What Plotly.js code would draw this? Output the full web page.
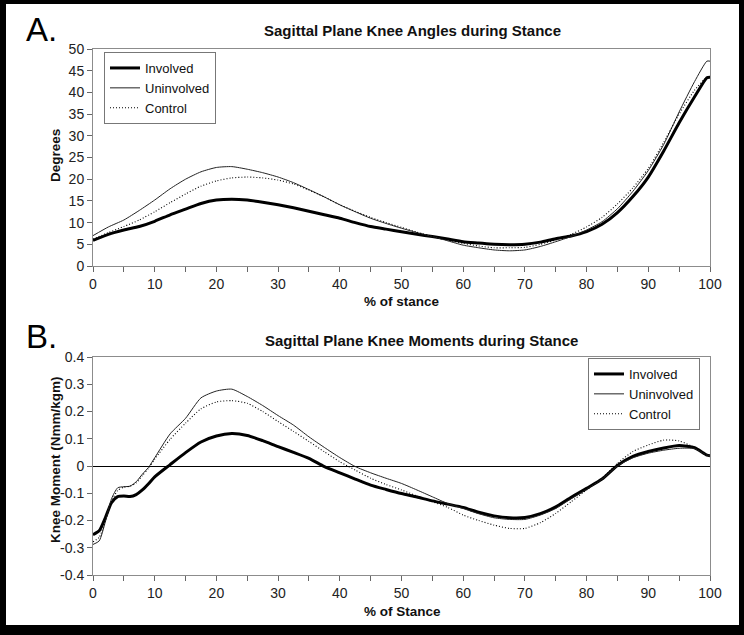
<!DOCTYPE html>
<html>
<head>
<meta charset="utf-8">
<script src="https://cdn.plot.ly/plotly-3.0.1.min.js"></script>
<style>
  html, body { margin: 0; padding: 0; background: #fff; }
  #chart { width: 744px; height: 635px; }
</style>
</head>
<body>
<div id="chart"></div>
<script>
// top panel: knee angles (degrees) vs % of stance
var angleX = [0, 2.5, 5, 7.5, 10, 12.5, 15, 17.5, 20, 22.5, 25, 27.5, 30, 32.5, 35, 37.5, 40, 42.5, 45, 47.5,
              50, 52.5, 55, 57.5, 60, 62.5, 65, 67.5, 70, 72.5, 75, 77.5, 80, 82.5, 85, 87.5, 90, 92.5, 95, 97.5, 99.5, 100];
var angleInvolved = [5.9, 7.3, 8.3, 9.1, 10.3, 11.8, 13.1, 14.4, 15.2, 15.4, 15.2, 14.7, 14.1, 13.4, 12.6, 11.8, 11.0, 10.0, 9.1, 8.5,
                     7.9, 7.3, 6.8, 6.2, 5.6, 5.3, 5.0, 4.9, 5.0, 5.5, 6.3, 6.9, 7.9, 9.6, 12.3, 16.0, 20.5, 26.5, 33.0, 39.0, 43.4, 43.5];
var angleUninvolved = [7.0, 9.0, 10.6, 12.8, 15.2, 17.8, 20.0, 21.7, 22.7, 22.9, 22.3, 21.5, 20.5, 19.2, 17.6, 15.9, 14.1, 12.5, 11.0, 9.8,
                       8.7, 7.7, 6.8, 5.8, 4.8, 4.2, 3.7, 3.5, 3.7, 4.5, 5.6, 6.8, 8.3, 10.2, 13.2, 17.2, 22.0, 28.0, 35.5, 42.5, 47.2, 47.2];
var angleControl = [6.2, 7.7, 9.1, 10.6, 12.5, 14.6, 16.6, 18.4, 19.6, 20.3, 20.5, 20.3, 19.8, 18.9, 17.5, 15.9, 14.1, 12.6, 11.2, 10.0,
                    8.9, 7.8, 6.8, 6.0, 5.2, 4.6, 4.2, 4.2, 4.3, 5.0, 6.0, 7.3, 9.0, 11.2, 14.3, 18.0, 22.5, 28.5, 35.0, 40.5, 43.5, 43.5];

// bottom panel: knee moments (Nmm/kgm) vs % of stance
var momentX = [0, 1, 2, 3, 4, 5, 6, 7, 8, 9, 10, 12.5, 15, 17.5, 20, 22.5, 25, 27.5, 30, 32.5, 35, 37.5, 40, 42.5, 45, 47.5,
               50, 52.5, 55, 57.5, 60, 62.5, 65, 67.5, 70, 72.5, 75, 77.5, 80, 82.5, 85, 87.5, 90, 92.5, 95, 97.5, 99.5, 100];
var momentInvolved = [-0.252, -0.238, -0.190, -0.135, -0.112, -0.110, -0.112, -0.105, -0.088, -0.065, -0.040, 0.005, 0.049, 0.088,
                      0.110, 0.119, 0.112, 0.093, 0.071, 0.050, 0.028, -0.002, -0.025, -0.048, -0.070, -0.086, -0.101, -0.114,
                      -0.128, -0.140, -0.152, -0.170, -0.183, -0.190, -0.189, -0.175, -0.150, -0.115, -0.082, -0.048, 0.002,
                      0.035, 0.053, 0.066, 0.075, 0.067, 0.040, 0.038];
var momentUninvolved = [-0.288, -0.275, -0.205, -0.120, -0.080, -0.076, -0.074, -0.058, -0.030, -0.005, 0.030, 0.118, 0.175, 0.250,
                        0.275, 0.282, 0.255, 0.222, 0.185, 0.150, 0.107, 0.068, 0.031, -0.002, -0.025, -0.045, -0.064, -0.088,
                        -0.113, -0.138, -0.156, -0.175, -0.190, -0.196, -0.196, -0.180, -0.156, -0.120, -0.086, -0.048, 0.0,
                        0.030, 0.047, 0.058, 0.065, 0.064, 0.040, 0.039];
var momentControl = [-0.278, -0.262, -0.200, -0.130, -0.090, -0.078, -0.074, -0.062, -0.035, -0.008, 0.025, 0.098, 0.157, 0.210,
                     0.235, 0.240, 0.230, 0.200, 0.163, 0.127, 0.090, 0.052, 0.016, -0.015, -0.045, -0.068, -0.088, -0.110,
                     -0.131, -0.152, -0.180, -0.200, -0.217, -0.229, -0.229, -0.208, -0.174, -0.131, -0.088, -0.045, 0.010,
                     0.053, 0.077, 0.095, 0.092, 0.068, 0.040, 0.039];

var momentTicks = [0.4, 0.3, 0.2, 0.1, 0, -0.1, -0.2, -0.3, -0.4];
var momentTickText = ['0.4', '0.3', '0.2', '0.1', '0', '-0.1', '-0.2', '-0.3', '-0.4'];

var names = ['Involved', 'Uninvolved', 'Control'];
var lines = [
  {color: '#000', width: 3, shape: 'spline', smoothing: 0.6},
  {color: '#222', width: 1, shape: 'spline', smoothing: 0.6},
  {color: '#000', width: 1.1, dash: '1px,2px', shape: 'spline', smoothing: 0.6}
];

var font = 'Liberation Sans, Arial, sans-serif';
var traces = [];
[angleInvolved, angleUninvolved, angleControl].forEach(function (ys, i) {
  traces.push({x: angleX, y: ys, name: names[i], type: 'scatter', mode: 'lines',
               line: lines[i], xaxis: 'x', yaxis: 'y', legend: 'legend'});
});
[momentInvolved, momentUninvolved, momentControl].forEach(function (ys, i) {
  traces.push({x: momentX, y: ys, name: names[i], type: 'scatter', mode: 'lines',
               line: lines[i], xaxis: 'x2', yaxis: 'y2', legend: 'legend2'});
});

var W = 744, H = 635;
function px(v) { return v / W; }
function py(v) { return 1 - v / H; }

var tickFont = {family: font, size: 14, color: '#222'};
var xCommon = {
  range: [0, 100], dtick: 10, ticks: 'outside', ticklen: 5, tickcolor: '#666',
  minor: {dtick: 5, ticks: 'outside', ticklen: 5, tickcolor: '#666'},
  showgrid: false, zeroline: false, showline: true, linecolor: '#8c8c8c', mirror: true,
  tickfont: tickFont, fixedrange: true
};

function note(text, x, y, size, extra) {
  return Object.assign({text: text, x: px(x), y: py(y), xref: 'paper', yref: 'paper',
    xanchor: 'center', yanchor: 'middle', showarrow: false,
    font: {family: font, size: size, color: '#111'}}, extra || {});
}

var layout = {
  width: W, height: H,
  margin: {l: 0, r: 0, t: 0, b: 0},
  paper_bgcolor: '#fff', plot_bgcolor: '#fff',
  showlegend: true,
  xaxis: Object.assign({}, xCommon, {domain: [px(93), px(710)], anchor: 'y'}),
  yaxis: {
    domain: [py(266), py(49)], anchor: 'x', range: [0, 50], dtick: 5,
    ticks: 'outside', ticklen: 5, tickcolor: '#666',
    showgrid: false, zeroline: false, showline: true, linecolor: '#8c8c8c', mirror: true,
    tickfont: tickFont, fixedrange: true
  },
  xaxis2: Object.assign({}, xCommon, {domain: [px(93), px(710)], anchor: 'y2'}),
  yaxis2: {
    domain: [py(575), py(357)], anchor: 'x2', range: [-0.4, 0.4],
    tickvals: momentTicks, ticktext: momentTickText,
    ticks: 'outside', ticklen: 5, tickcolor: '#666',
    showgrid: false, zeroline: true, zerolinecolor: '#000', zerolinewidth: 1,
    showline: true, linecolor: '#8c8c8c', mirror: true,
    tickfont: tickFont, fixedrange: true
  },
  legend: {
    x: px(104), y: py(52), xanchor: 'left', yanchor: 'top',
    bgcolor: '#fff', bordercolor: '#777', borderwidth: 1,
    font: {family: font, size: 13, color: '#111'}, tracegroupgap: 0
  },
  legend2: {
    x: px(588), y: py(358), xanchor: 'left', yanchor: 'top',
    bgcolor: '#fff', bordercolor: '#777', borderwidth: 1,
    font: {family: font, size: 13, color: '#111'}, tracegroupgap: 0
  },
  annotations: [
    note('A.', 24, 50, 33, {xanchor: 'left', yanchor: 'bottom', font: {family: font, size: 33, color: '#000'}}),
    note('B.', 24, 357, 33, {xanchor: 'left', yanchor: 'bottom', font: {family: font, size: 33, color: '#000'}}),
    note('<b>Sagittal Plane Knee Angles during Stance</b>', 413, 30, 15),
    note('<b>Sagittal Plane Knee Moments during Stance</b>', 421, 340, 15),
    note('<b>% of stance</b>', 402, 301, 13.5),
    note('<b>% of Stance</b>', 402, 611, 13.5),
    note('<b>Degrees</b>', 55, 156, 13.5, {textangle: -90}),
    note('<b>Knee Moment (Nmm/kgm)</b>', 55, 460, 13.5, {textangle: -90})
  ],
  shapes: [
    // black frame around the whole figure
    {type: 'rect', xref: 'paper', yref: 'paper', x0: 0, x1: 1, y0: py(4), y1: 1, fillcolor: '#000', line: {width: 0}},
    {type: 'rect', xref: 'paper', yref: 'paper', x0: 0, x1: 1, y0: 0, y1: py(625), fillcolor: '#000', line: {width: 0}},
    {type: 'rect', xref: 'paper', yref: 'paper', x0: 0, x1: px(6), y0: 0, y1: 1, fillcolor: '#000', line: {width: 0}},
    {type: 'rect', xref: 'paper', yref: 'paper', x0: px(739), x1: 1, y0: 0, y1: 1, fillcolor: '#000', line: {width: 0}}
  ]
};

Plotly.newPlot('chart', traces, layout, {staticPlot: true, displayModeBar: false});
</script>
</body>
</html>
